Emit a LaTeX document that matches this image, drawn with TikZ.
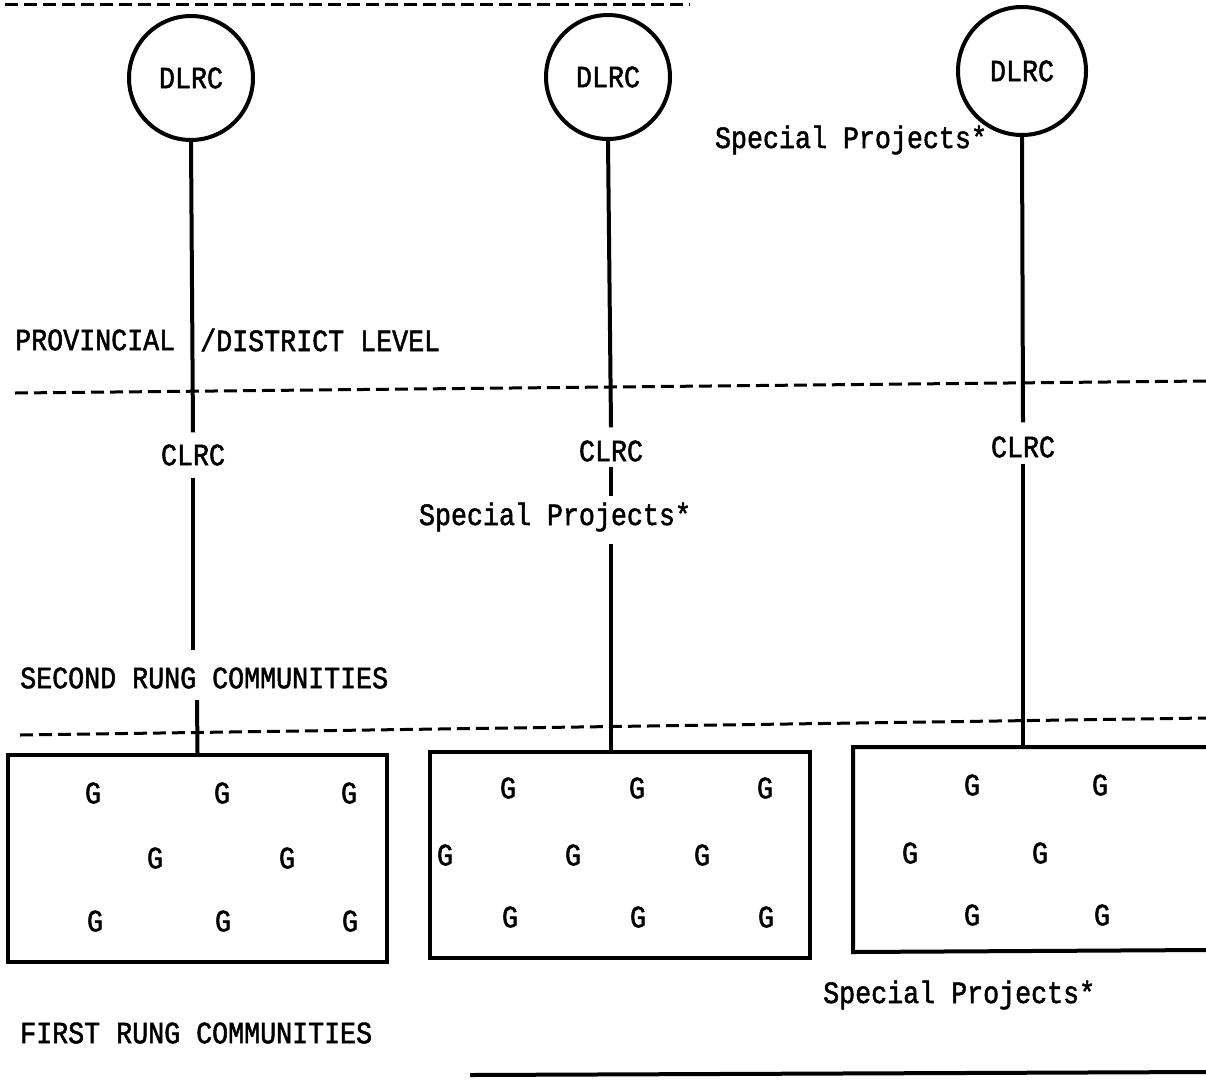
\documentclass[tikz,border=0pt]{standalone}
\usepackage{fontspec}
\setmonofont[FakeStretch=0.86,FakeBold=1.6]{Liberation Mono}
\begin{document}
\begin{tikzpicture}[x=1pt,y=-1pt,
    every node/.style={font=\fontsize{31}{34}\selectfont\ttfamily,inner sep=0pt},
    centre/.style={draw,circle,line width=4pt,minimum size=124pt},
    cluster/.style={draw,line width=4pt},
    link/.style={line width=4pt},
    level/.style={line width=3pt,dash pattern=on 13pt off 6pt}]
    \useasboundingbox (0,0) rectangle (1206,1082);
    % level boundaries
    \draw[level] (5,4) -- (690,4);
    \draw[level] (15,393) -- (1206,381);
    \draw[level] (20,735) -- (1206,718);
    \draw[link] (470,1075) -- (1206,1072);
    % district centres
    \node[centre] (d1) at (191,78) {DLRC};
    \node[centre] (d2) at (608,77) {DLRC};
    \node[centre,minimum size=128pt] (d3) at (1022,71) {DLRC};
    \node (sp1) at (851,140) {Special Projects*};
    % community centres
    \node (c1) at (193,455) {CLRC};
    \node (c2) at (611,451) {CLRC};
    \node (c3) at (1023,447) {CLRC};
    \node (sp2) at (555,517) {Special Projects*};
    % level labels
    \node[anchor=west] (prov) at (15,340) {PROVINCIAL};
    \node[anchor=west] (dist) at (200,340) {/DISTRICT LEVEL};
    \node[anchor=west] (second) at (20,678) {SECOND RUNG COMMUNITIES};
    \node[anchor=west] (first) at (20,1033) {FIRST RUNG COMMUNITIES};
    \node[anchor=west] (sp3) at (823,995) {Special Projects*};
    % first rung clusters
    \node[cluster,minimum width=379pt,minimum height=207pt] (b1) at (197.5,858.5) {};
    \node[cluster,minimum width=380pt,minimum height=206pt] (b2) at (620,855) {};
    \coordinate (b3a) at (1206,747);
    \coordinate (b3b) at (853,747);
    \coordinate (b3c) at (853,952);
    \coordinate (b3d) at (1206,950);
    \draw[link] (b3a) -- (b3b) -- (b3c) -- (b3d);
    \foreach \gx/\gy [count=\i] in {93/793,222/793,349/793,155/858,287/858,95/921,223/921,350/921,
        508/788,637/788,765/788,445/855,573/855,702/855,510/917,638/917,766/917,
        972/785,1100/785,910/853,1040/853,972/915,1102/915}
        \node (g\i) at (\gx,\gy) {G};
    % connectors
    \draw[link] (d1.south) -- ([yshift=12pt]c1.north);
    \draw[link] ([yshift=-12pt]c1.south) -- (193,650);
    \coordinate (k1) at (197,700);
    \draw[link] (k1) -- (b1.north);
    \draw[link] (d2.south) -- ([yshift=13pt]c2.north);
    \draw[link] ([yshift=-5pt]c2.south) -- ([yshift=6pt]c2 |- sp2.north);
    \draw[link] ([yshift=-12pt]c2 |- sp2.south) -- (c2 |- b2.north);
    \draw[link] (d3.south) -- ([yshift=14pt]c3.north);
    \draw[link] ([yshift=-6pt]c3.south) -- (c3 |- b3b);
\end{tikzpicture}
\end{document}
